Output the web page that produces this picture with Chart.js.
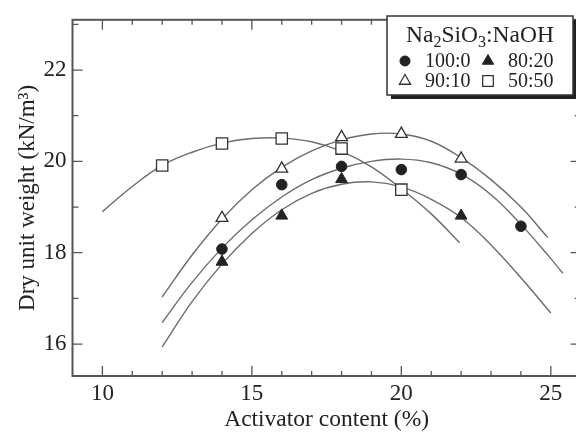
<!DOCTYPE html>
<html>
<head>
<meta charset="utf-8">
<script src="https://cdn.jsdelivr.net/npm/chart.js@4.4.0/dist/chart.umd.min.js"></script>
<style>
  html, body { margin: 0; padding: 0; background: #fff; overflow: hidden; }
  #wrap { width: 576px; height: 435px; overflow: hidden; }
  canvas { display: block; }
</style>
</head>
<body>
<div id="wrap"><canvas id="chart" width="590" height="435"></canvas></div>
<script>
// measured points, Na2SiO3:NaOH ratios
const circleX = [14, 16, 18, 20, 22, 24];
const circleY = [18.08, 19.49, 19.89, 19.82, 19.71, 18.58];      // 100:0
const triFilledX = [14, 16, 18, 22];
const triFilledY = [17.80, 18.81, 19.61, 18.81];                 // 80:20
const triOpenX = [14, 16, 18, 20, 22];
const triOpenY = [18.76, 19.84, 20.53, 20.60, 20.06];            // 90:10
const squareX = [12, 14, 16, 18, 20];
const squareY = [19.91, 20.39, 20.50, 20.28, 19.38];             // 50:50

// fitted curves
const fitCircleX = [12, 13, 14, 15, 16, 17, 18, 19, 20, 21, 22, 23, 24, 25, 25.4];
const fitCircleY = [16.47, 17.35, 18.10, 18.72, 19.22, 19.60, 19.85, 20.00, 20.05, 19.97, 19.72, 19.27, 18.62, 17.87, 17.55];
const fitFilledX = [12, 13, 14, 15, 16, 17, 18, 19, 20, 21, 22, 23, 24, 25];
const fitFilledY = [15.94, 16.93, 17.75, 18.42, 18.94, 19.30, 19.50, 19.55, 19.44, 19.17, 18.77, 18.17, 17.45, 16.68];
const fitOpenX = [12, 13, 14, 15, 16, 17, 18, 19, 20, 21, 22, 23, 24, 24.9];
const fitOpenY = [17.03, 17.95, 18.74, 19.38, 19.87, 20.23, 20.47, 20.60, 20.60, 20.44, 20.08, 19.60, 19.00, 18.33];
const fitSquareX = [10, 11, 12, 13, 14, 15, 16, 17, 18, 19, 20, 21, 21.95];
const fitSquareY = [18.90, 19.45, 19.91, 20.20, 20.40, 20.50, 20.51, 20.43, 20.22, 19.88, 19.40, 18.85, 18.22];

const xTickLabels = [10, 15, 20, 25];
const yTickLabels = [16, 18, 20, 22];
const legendLabels = ['100:0', '80:20', '90:10', '50:50'];

const serif = "'Liberation Serif', 'Times New Roman', serif";
const ink = '#222';
const curveColor = '#6c6c6c';

function zip(xs, ys) {
    return xs.map((x, i) => ({ x: x, y: ys[i] }));
}

function curve(xs, ys) {
    return {
        data: zip(xs, ys),
        showLine: true,
        pointRadius: 0,
        borderColor: curveColor,
        borderWidth: 1.4,
        tension: 0.4,
        fill: false,
        order: 2
    };
}

// marker datasets, also used by the legend
const markers = [
    { data: zip(circleX, circleY), pointStyle: 'circle', pointRadius: 5.3,
      backgroundColor: ink, borderColor: ink, borderWidth: 1, order: 1 },
    { data: zip(triFilledX, triFilledY), pointStyle: 'triangle', pointRadius: 6.8,
      backgroundColor: ink, borderColor: ink, borderWidth: 1, order: 1 },
    { data: zip(triOpenX, triOpenY), pointStyle: 'triangle', pointRadius: 6.8,
      backgroundColor: '#fff', borderColor: '#333', borderWidth: 1.3, order: 1 },
    { data: zip(squareX, squareY), pointStyle: 'rect', pointRadius: 8,
      backgroundColor: '#fff', borderColor: '#333', borderWidth: 1.3, order: 1 }
];

// frame with inward ticks on all sides
const framePlugin = {
    id: 'frame',
    afterDraw(chart) {
        const { ctx, chartArea: a, scales: { x, y } } = chart;
        ctx.save();
        ctx.strokeStyle = '#555';
        ctx.lineWidth = 2;
        ctx.strokeRect(a.left, a.top, a.right - a.left, a.bottom - a.top);
        ctx.lineWidth = 1.3;
        ctx.beginPath();
        for (let v = 10; v <= 25; v++) {
            const px = x.getPixelForValue(v);
            const len = v % 5 === 0 ? 10 : 5;
            ctx.moveTo(px, a.bottom); ctx.lineTo(px, a.bottom - len);
            ctx.moveTo(px, a.top); ctx.lineTo(px, a.top + len);
        }
        for (let v = 16; v <= 23; v++) {
            const py = y.getPixelForValue(v);
            const len = v % 2 === 0 ? 10 : 6;
            ctx.moveTo(a.left, py); ctx.lineTo(a.left + len, py);
            ctx.moveTo(a.right, py); ctx.lineTo(a.right - len, py);
        }
        ctx.stroke();
        ctx.restore();
    }
};

// boxed legend with shadow, two columns
const legendPlugin = {
    id: 'boxLegend',
    afterDraw(chart) {
        const ctx = chart.ctx;
        const bx = 387, by = 16, bw = 186, bh = 79;
        ctx.save();
        ctx.fillStyle = '#222';
        ctx.fillRect(bx + 4, by + 4, bw, bh);
        ctx.fillStyle = '#fff';
        ctx.fillRect(bx, by, bw, bh);
        ctx.strokeStyle = '#333';
        ctx.lineWidth = 1.5;
        ctx.strokeRect(bx, by, bw, bh);

        // title with subscripts
        const parts = [['Na', 0], ['2', 1], ['SiO', 0], ['3', 1], [':NaOH', 0]];
        const big = '23.5px ' + serif, small = '16px ' + serif;
        let total = 0;
        parts.forEach(p => { ctx.font = p[1] ? small : big; total += ctx.measureText(p[0]).width; });
        let tx = bx + bw / 2 - total / 2;
        ctx.fillStyle = ink;
        ctx.textBaseline = 'alphabetic';
        ctx.textAlign = 'left';
        parts.forEach(p => {
            ctx.font = p[1] ? small : big;
            ctx.fillText(p[0], tx, p[1] ? 47 : 42);
            tx += ctx.measureText(p[0]).width;
        });

        // entries: circle, filled tri / open tri, square
        const spots = [[405, 61], [488, 61], [405, 81], [488, 81]];
        ctx.font = '20px ' + serif;
        ctx.textBaseline = 'middle';
        markers.forEach((ds, i) => {
            const [mx, my] = spots[i];
            ctx.fillStyle = ds.backgroundColor;
            ctx.strokeStyle = ds.borderColor;
            ctx.lineWidth = ds.borderWidth;
            const r = ds.pointStyle === 'rect' ? 7.5 : ds.pointStyle === 'triangle' ? 6.5 : 5;
            Chart.helpers.drawPoint(ctx, { pointStyle: ds.pointStyle, radius: r, rotation: 0, borderWidth: ds.borderWidth }, mx, my);
            ctx.fillStyle = ink;
            ctx.fillText(legendLabels[i], mx + 20, my + 1);
        });
        ctx.restore();
    }
};

Chart.defaults.font.family = serif;
Chart.defaults.color = ink;

const chart = new Chart(document.getElementById('chart'), {
    type: 'scatter',
    data: {
        datasets: [
            curve(fitCircleX, fitCircleY),
            curve(fitFilledX, fitFilledY),
            curve(fitOpenX, fitOpenY),
            curve(fitSquareX, fitSquareY),
            ...markers
        ]
    },
    options: {
        responsive: false,
        animation: false,
        layout: { padding: { left: 0, right: 4, top: 9, bottom: 0 } },
        plugins: { legend: { display: false }, tooltip: { enabled: false } },
        scales: {
            x: {
                type: 'linear',
                min: 9,
                max: 26,
                afterBuildTicks: s => { s.ticks = xTickLabels.map(v => ({ value: v })); },
                afterFit: s => { s.height = 59; },
                grid: { display: false, drawTicks: false },
                border: { display: false },
                ticks: { font: { size: 23 }, color: ink, padding: 4, maxRotation: 0 },
                title: { display: true, text: 'Activator content (%)', font: { size: 23.5 }, color: ink,
                         padding: { top: 0, bottom: 1 } }
            },
            y: {
                type: 'linear',
                min: 15.3,
                max: 23.1,
                afterBuildTicks: s => { s.ticks = yTickLabels.map(v => ({ value: v })); },
                afterFit: s => { s.width = 72.5; },
                grid: { display: false, drawTicks: false },
                border: { display: false },
                ticks: { font: { size: 23 }, color: ink, padding: 6 },
                title: { display: true, text: 'Dry unit weight (kN/m³)', font: { size: 23 }, color: ink,
                         padding: { top: 14, bottom: 0 } }
            }
        }
    },
    plugins: [framePlugin, legendPlugin]
});
</script>
</body>
</html>
